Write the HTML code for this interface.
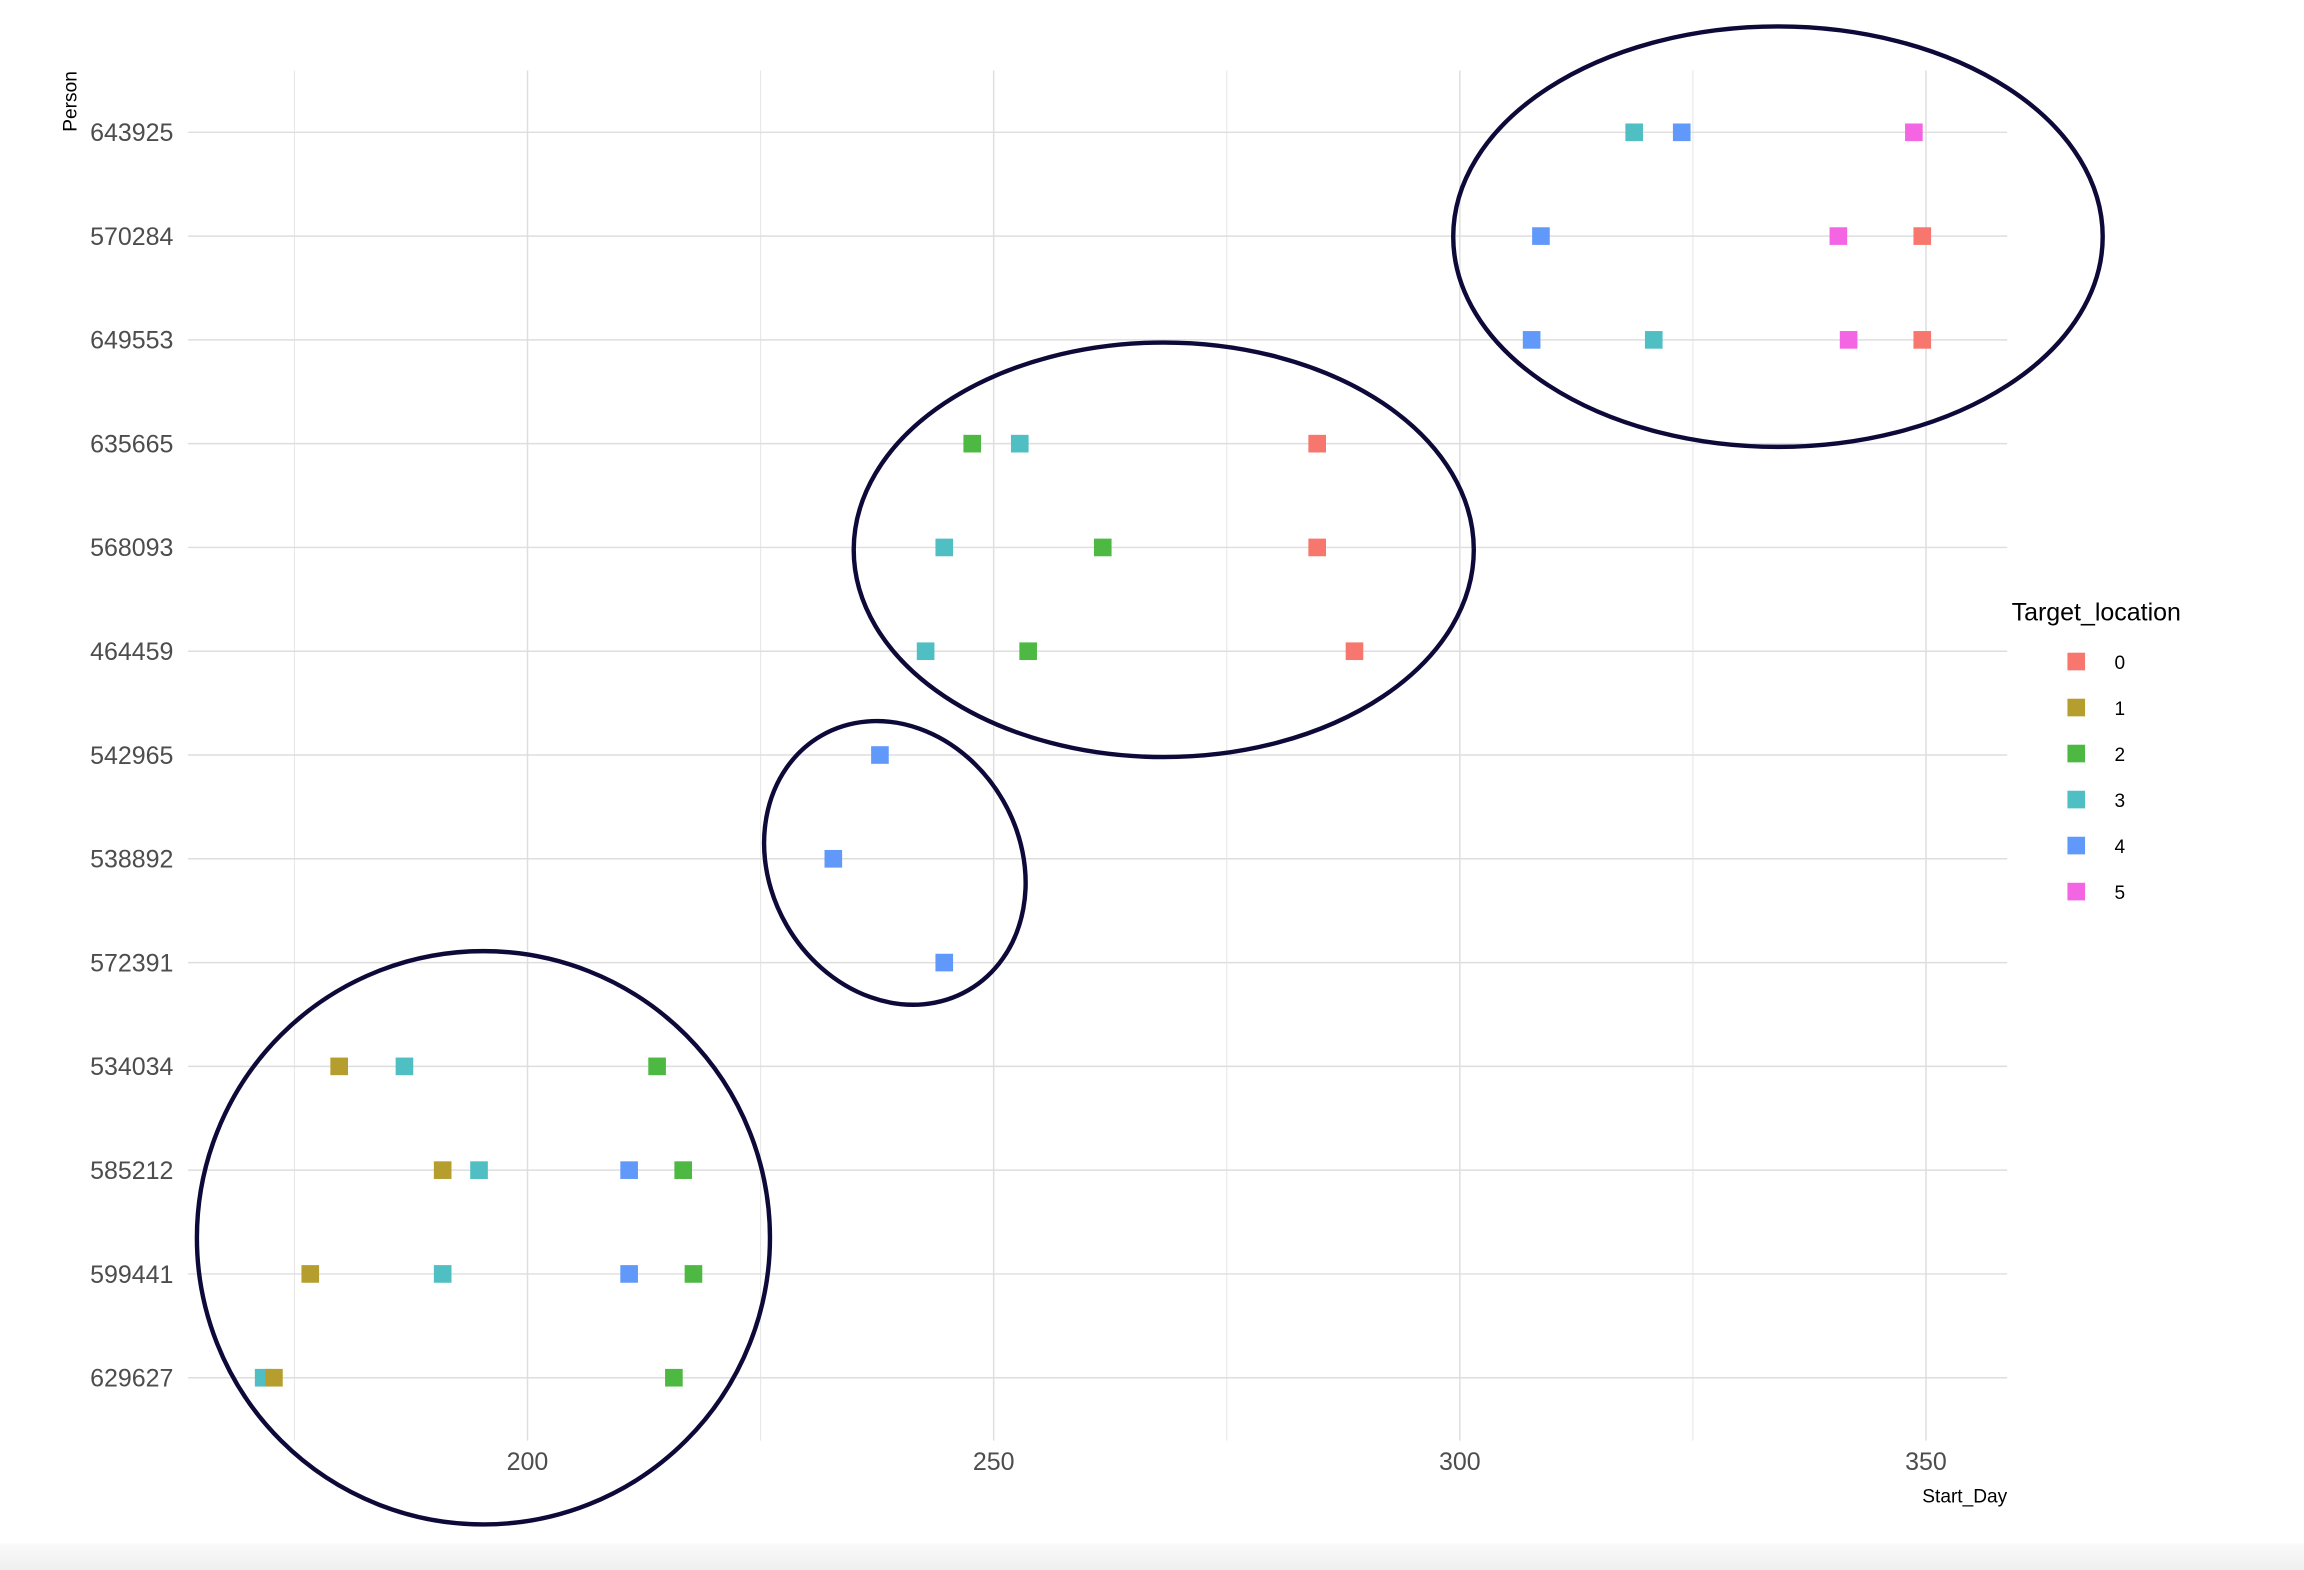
<!DOCTYPE html>
<html><head><meta charset="utf-8"><style>
html,body{margin:0;padding:0;background:#fff;}
svg{display:block;font-family:"Liberation Sans",sans-serif;}
</style></head><body>
<svg id="chart" width="2304" height="1570" viewBox="0 0 1568 1068" preserveAspectRatio="none" xmlns="http://www.w3.org/2000/svg">
<defs><linearGradient id="bb" x1="0" y1="0" x2="0" y2="1"><stop offset="0" stop-color="#fafafa"/><stop offset="1" stop-color="#efefef"/></linearGradient></defs>
<rect x="0" y="0" width="1568" height="1068" fill="#fff"/>
<rect x="0" y="1050" width="1568" height="18" fill="url(#bb)"/>
<g id="grid"></g><g id="axes"></g><g id="marks"></g><g id="ellipses"></g><g id="legend"></g>
</svg>
<script>
const persons = ["643925","570284","649553","635665","568093","464459","542965","538892","572391","534034","585212","599441","629627"];
const pointPerson = [0,0,0, 1,1,1, 2,2,2,2, 3,3,3, 4,4,4, 5,5,5, 6, 7, 8, 9,9,9, 10,10,10,10, 11,11,11,11, 12,12,12];
const pointDay = [318.7,323.8,348.7, 308.7,340.6,349.6, 307.7,320.8,341.7,349.6, 247.7,252.8,284.7, 244.7,261.7,284.7, 242.7,253.7,288.7, 237.8, 232.8, 244.7, 179.8,186.8,213.9, 190.9,194.8,210.9,216.7, 176.7,190.9,210.9,217.8, 171.7,172.8,215.7];
const pointLoc = [3,4,5, 4,5,0, 4,3,5,0, 2,3,0, 3,2,0, 3,2,0, 4, 4, 4, 1,3,2, 1,3,4,2, 1,3,4,2, 3,1,2];
const xTicks = [200,250,300,350];
const xMinor = [175,225,275,325];
const locLabels = ["0","1","2","3","4","5"];
const locColors = ["#F7766D","#B59E2E","#4DB942","#50BFC3","#6199FA","#F465E3"];

const NS="http://www.w3.org/2000/svg";
const X=v=>359+(v-200)*6.345;
const Y=i=>90+i*70.6;
const P={l:128,r:1366,t:48,b:980};
function mk(tag,attrs,parent,txt){const e=document.createElementNS(NS,tag);for(const k in attrs)e.setAttribute(k,attrs[k]);if(txt!==undefined)e.textContent=txt;parent.appendChild(e);return e;}
const grid=document.getElementById('grid'),axes=document.getElementById('axes'),marks=document.getElementById('marks'),leg=document.getElementById('legend'),ell=document.getElementById('ellipses');
xMinor.forEach(v=>{const l=mk('line',{x1:X(v),x2:X(v),y1:P.t,y2:P.b,stroke:'#e6e6e6','stroke-width':0.7},grid);

});
xTicks.forEach(v=>{const l=mk('line',{x1:X(v),x2:X(v),y1:P.t,y2:P.b,stroke:'#dedede','stroke-width':1},grid);


const t=mk('text',{x:X(v),y:1000,'text-anchor':'middle','font-size':17,fill:'#4d4d4d'},axes,String(v));

});
persons.forEach((p,i)=>{const l=mk('line',{x1:P.l,x2:P.r,y1:Y(i),y2:Y(i),stroke:'#dedede','stroke-width':1},grid);


const t=mk('text',{x:118,y:Y(i)+6,'text-anchor':'end','font-size':17,fill:'#4d4d4d'},axes,p);

});
let t1=mk('text',{x:1366,y:1022,'text-anchor':'end','font-size':13,fill:'#000'},axes,'Start_Day');


let t2=mk('text',{x:0,y:0,'text-anchor':'middle','font-size':13,fill:'#000',transform:'translate(52,69) rotate(-90)'},axes,'Person');


pointDay.forEach((d,i)=>{const r=mk('rect',{x:X(d)-6,y:Y(pointPerson[i])-6,width:12,height:12,fill:locColors[pointLoc[i]]},marks);

});
[[1210,161,221,143,0],[792,374,211,141,0],[609,587,85,100,-30],[329,842,195,195,0]].forEach(e=>{const el=mk('ellipse',{cx:e[0],cy:e[1],rx:e[2],ry:e[3],fill:'none',stroke:'#0d0a3a','stroke-width':3,transform:`rotate(${e[4]} ${e[0]} ${e[1]})`},ell);

});
let lt=mk('text',{x:1369,y:422,'font-size':17,fill:'#000'},leg,'Target_location');


locLabels.forEach((s,i)=>{const y=450+i*31.3;
const r=mk('rect',{x:1407,y:y-6,width:12,height:12,fill:locColors[i]},leg);


const t=mk('text',{x:1439,y:y+5,'font-size':13,fill:'#000'},leg,s);

});
</script>
</body></html>
